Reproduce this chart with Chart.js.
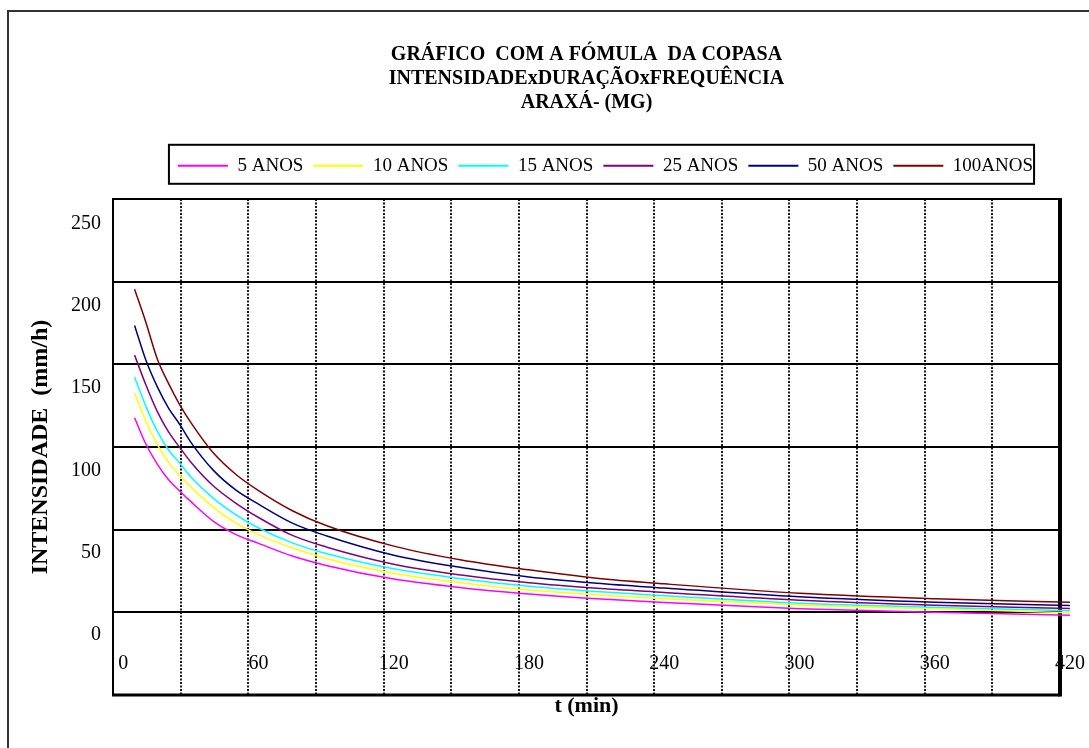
<!DOCTYPE html>
<html lang="pt">
<head>
<meta charset="utf-8">
<title>Araxá - Intensidade x Duração x Frequência</title>
<script src="https://cdn.jsdelivr.net/npm/chart.js@4.4.1/dist/chart.umd.min.js"></script>
<style>
  html, body { margin: 0; padding: 0; background: #fff; overflow: hidden; }
  .page-frame { position: absolute; left: 7px; top: 10px; width: 1100px; height: 760px; border-left: 2px solid #333; border-top: 2px solid #333; }
  .chart-box { position: absolute; left: 0; top: 0; width: 1089px; height: 748px; }
</style>
</head>
<body>
<div class="page-frame"></div>
<div class="chart-box"><canvas id="idfChart"></canvas></div>
<script>
// --- values (t in min, i in mm/h) ---
let duracoes = [5, 10, 15, 20, 25, 30, 40, 50, 60, 75, 90, 120, 150, 180, 210, 240, 300, 360, 420];
let anos5   = [132, 116, 104, 94.5, 87.5, 81, 69, 61, 55.7, 48, 42.3, 34, 28.8, 25, 22, 19.7, 16, 13.8, 12.1];
let anos10  = [147, 130, 116, 105, 97, 90, 77.5, 68, 61, 53, 46.5, 37.6, 31.8, 27.3, 24.4, 22, 18.3, 15.9, 13.5];
let anos15  = [156.5, 139, 124, 112.5, 104.5, 96, 83, 73, 65, 56, 49.5, 40.2, 34.2, 29.6, 26.4, 23.8, 19.3, 16.8, 14.8];
let anos25  = [170, 152, 136, 123.5, 114, 105, 90.5, 80, 71.4, 60.5, 53.5, 43, 36.4, 31.7, 28.4, 25.9, 21.1, 18.1, 16.2];
let anos50  = [188, 167, 151, 138, 128, 117, 100, 88, 79.5, 68, 60.3, 48.5, 41, 35.3, 31.5, 28.6, 23.2, 19.9, 18];
let anos100 = [210, 190, 168, 153, 140, 129, 110.5, 97.5, 87.7, 75.5, 66.5, 54, 45.6, 39.6, 34.5, 31.1, 25.4, 22.1, 19.9];

let seriesNames  = ['5 ANOS', '10 ANOS', '15 ANOS', '25 ANOS', '50 ANOS', '100ANOS'];
let seriesValues = [anos5, anos10, anos15, anos25, anos50, anos100];
let seriesColors = ['#ff00ff', '#ffff00', '#00ffff', '#800080', '#000080', '#800000'];

let xTicks = [0, 60, 120, 180, 240, 300, 360, 420];
let yTicks = [0, 50, 100, 150, 200, 250];

let titleLines = ['GRÁFICO  COM A FÓMULA  DA COPASA', 'INTENSIDADExDURAÇÃOxFREQUÊNCIA', 'ARAXÁ- (MG)'];

Chart.defaults.font.family = "'Liberation Serif', 'Times New Roman', serif";
Chart.defaults.color = '#000';

function toPoints(values) {
  return duracoes.map((t, i) => ({ x: t, y: values[i] }));
}

// --- plot frame: heavier right / bottom edges like the original ---
let plotFrame = {
  id: 'plotFrame',
  beforeDatasetsDraw(chart) {
    let ctx = chart.ctx, a = chart.chartArea;
    ctx.save();
    ctx.strokeStyle = '#000';
    ctx.lineWidth = 2;
    ctx.beginPath();
    ctx.moveTo(a.left, a.bottom);
    ctx.lineTo(a.left, a.top);
    ctx.lineTo(a.right, a.top);
    ctx.stroke();
    ctx.lineWidth = 3;
    ctx.beginPath();
    ctx.moveTo(a.left - 1, a.bottom);
    ctx.lineTo(a.right, a.bottom);
    ctx.stroke();
    ctx.lineWidth = 4;
    ctx.beginPath();
    ctx.moveTo(a.right, a.top - 1);
    ctx.lineTo(a.right, a.bottom + 1.5);
    ctx.stroke();
    ctx.restore();
  }
};

// --- box around the legend, legend sits a little right of the plot centre ---
let legendBox = {
  id: 'legendBox',
  afterLayout(chart) {
    chart.legend.left += 19;
    chart.legend.right += 19;
  },
  afterDraw(chart) {
    let lg = chart.legend;
    let boxes = lg.legendHitBoxes;
    if (!boxes || !boxes.length) return;
    let first = boxes[0], last = boxes[boxes.length - 1];
    let ctx = chart.ctx;
    ctx.save();
    ctx.strokeStyle = '#000';
    ctx.lineWidth = 2;
    ctx.strokeRect(first.left - 9, lg.top - 1.5, last.left + last.width - first.left + 10, lg.height);
    ctx.restore();
  }
};

let ctx = document.getElementById('idfChart').getContext('2d');
let idfChart = new Chart(ctx, {
  type: 'line',
  data: {
    datasets: seriesNames.map((name, k) => ({
      label: name,
      data: toPoints(seriesValues[k]),
      borderColor: seriesColors[k],
      backgroundColor: seriesColors[k],
      pointBorderColor: seriesColors[k],
      borderWidth: 1.5,
      pointRadius: 0,
      pointStyle: 'line',
      pointBorderWidth: 2,
      cubicInterpolationMode: 'monotone',
      clip: false,
      xAxisID: 'x',
      yAxisID: 'y'
    }))
  },
  options: {
    responsive: true,
    maintainAspectRatio: false,
    animation: false,
    layout: { padding: { top: 43.3, left: 10, right: 29, bottom: 28.8 } },
    plugins: {
      tooltip: { enabled: false },
      title: {
        display: true,
        fullSize: false,
        text: titleLines,
        color: '#000',
        font: { size: 20, weight: 'bold', lineHeight: 1.2 },
        padding: { top: 0, bottom: 31 }
      },
      legend: {
        display: true,
        fullSize: false,
        position: 'top',
        align: 'center',
        labels: {
          usePointStyle: true,
          pointStyle: 'line',
          pointStyleWidth: 50,
          padding: 10,
          color: '#000',
          font: { size: 19 }
        }
      }
    },
    scales: {
      x: {
        type: 'linear',
        position: 'bottom',
        min: -4.57,
        max: 415.6,
        grid: { display: false, drawTicks: false },
        border: { display: false },
        afterBuildTicks: axis => { axis.ticks = xTicks.map(v => ({ value: v })); },
        afterFit: axis => {
          axis.height = 24.2;
          // the 420 label may overhang the frame, don't let it shrink the plot
          axis.paddingLeft = 0;
          axis.paddingRight = 0;
        },
        // labels sit inside the plot, above the bottom edge (mirror keeps them from being clipped)
        ticks: { autoSkip: false, maxRotation: 0, mirror: true, padding: 19, font: { size: 20, lineHeight: 1.2 } },
        title: { display: true, text: 't (min)', color: '#000', font: { size: 22, weight: 'bold', lineHeight: 1.2 }, padding: 0 }
      },
      xGrid: {
        type: 'linear',
        position: 'top',
        min: 0,
        max: 420,
        ticks: { display: false, stepSize: 30 },
        grid: { color: '#1a1a1a', lineWidth: 2, drawTicks: false },
        border: { display: false, dash: [2, 1.5] },
        afterFit: axis => { axis.height = 13.7; }
      },
      y: {
        type: 'linear',
        position: 'left',
        min: -36.4,
        max: 264.8,
        grid: { display: false, drawTicks: false },
        border: { display: false },
        afterBuildTicks: axis => { axis.ticks = yTicks.map(v => ({ value: v })); },
        afterFit: axis => { axis.width = 103; },
        ticks: { padding: 12, font: { size: 20, lineHeight: 1.2 } },
        title: { display: true, text: 'INTENSIDADE  (mm/h)', color: '#000', font: { size: 24, weight: 'bold', lineHeight: 1.2 }, padding: { top: 16.6, bottom: 0 } }
      },
      yGrid: {
        type: 'linear',
        position: 'left',
        min: 0,
        max: 300,
        ticks: { display: false, stepSize: 50 },
        grid: { color: '#000', lineWidth: 2, drawTicks: false },
        border: { display: false },
        afterFit: axis => { axis.width = 0; }
      }
    }
  },
  plugins: [plotFrame, legendBox]
});
</script>
</body>
</html>
